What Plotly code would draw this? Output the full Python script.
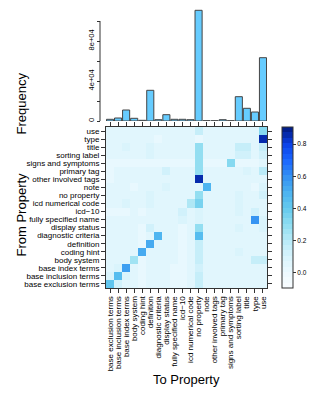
import plotly.graph_objects as go

W, H = 316, 396

properties = ["base exclusion terms", "base inclusion terms", "base index terms", "body system",
              "coding hint", "definition", "diagnostic criteria", "display status",
              "fully specified name", "icd\u221210", "icd numerical code", "no property", "note",
              "other involved tags", "primary tag", "signs and symptoms", "sorting label",
              "title", "type", "use"]

frequency = [1700, 3000, 11000, 2700, 700, 30700, 1300, 6300, 1700, 1700, 1300, 110700,
             300, 300, 1300, 300, 24300, 12700, 9000, 63300]

freq_tickvals = [0, 20000, 40000, 60000, 80000, 100000]
freq_ticktext = ["0", "", "4e+04", "", "8e+04", ""]

# rows = From Property (bottom to top), columns = To Property
z_base_exclusion = [0.42,0.12,0.05,0.04,0.03,0.05,0.04,0.04,0.03,0.03,0.04,0.14,0.04,0.04,0.05,0.04,0.06,0.04,0.05,0.05]
z_base_inclusion = [0.10,0.46,0.08,0.04,0.03,0.06,0.04,0.04,0.03,0.03,0.04,0.14,0.04,0.04,0.05,0.04,0.05,0.04,0.05,0.05]
z_base_index     = [0.06,0.08,0.55,0.05,0.03,0.07,0.04,0.04,0.03,0.03,0.04,0.13,0.04,0.04,0.05,0.04,0.05,0.04,0.05,0.06]
z_body_system    = [0.04,0.04,0.05,0.25,0.03,0.07,0.04,0.04,0.04,0.03,0.04,0.15,0.04,0.04,0.04,0.04,0.05,0.05,0.14,0.15]
z_coding_hint    = [0.04,0.04,0.05,0.04,0.52,0.06,0.04,0.04,0.04,0.03,0.04,0.14,0.04,0.04,0.04,0.04,0.08,0.04,0.04,0.06]
z_definition     = [0.04,0.04,0.05,0.04,0.03,0.52,0.05,0.04,0.04,0.03,0.04,0.14,0.04,0.04,0.04,0.04,0.05,0.04,0.04,0.05]
z_diagnostic     = [0.04,0.04,0.05,0.04,0.03,0.06,0.50,0.04,0.04,0.03,0.04,0.45,0.04,0.04,0.04,0.04,0.05,0.04,0.04,0.05]
z_display_status = [0.04,0.04,0.05,0.04,0.03,0.11,0.04,0.04,0.04,0.03,0.04,0.29,0.06,0.06,0.04,0.04,0.10,0.04,0.04,0.09]
z_fsn            = [0.04,0.04,0.05,0.04,0.04,0.06,0.04,0.04,0.04,0.10,0.04,0.10,0.04,0.04,0.04,0.04,0.06,0.04,0.58,0.09]
z_icd10          = [0.02,0.02,0.03,0.04,0.03,0.04,0.04,0.04,0.04,0.13,0.04,0.08,0.04,0.04,0.04,0.04,0.08,0.04,0.12,0.05]
z_icd_numerical  = [0.04,0.04,0.09,0.04,0.04,0.08,0.04,0.04,0.04,0.04,0.22,0.35,0.04,0.04,0.04,0.04,0.10,0.06,0.05,0.07]
z_no_property    = [0.04,0.04,0.05,0.04,0.04,0.08,0.04,0.04,0.04,0.04,0.06,0.28,0.06,0.06,0.04,0.04,0.10,0.04,0.04,0.12]
z_note           = [0.04,0.04,0.04,0.03,0.04,0.05,0.04,0.10,0.04,0.04,0.04,0.06,0.50,0.04,0.04,0.04,0.04,0.04,0.03,0.08]
z_other_involved = [0.03,0.04,0.04,0.05,0.04,0.04,0.04,0.06,0.04,0.04,0.04,0.86,0.04,0.06,0.06,0.04,0.04,0.04,0.04,0.04]
z_primary_tag    = [0.03,0.04,0.06,0.05,0.04,0.04,0.04,0.12,0.04,0.04,0.04,0.28,0.04,0.04,0.04,0.05,0.04,0.08,0.04,0.20]
z_signs          = [0.03,0.02,0.02,0.02,0.02,0.03,0.02,0.02,0.02,0.02,0.02,0.28,0.02,0.02,0.02,0.32,0.02,0.02,0.02,0.04]
z_sorting_label  = [0.04,0.04,0.05,0.04,0.04,0.10,0.04,0.04,0.04,0.04,0.04,0.28,0.04,0.04,0.04,0.04,0.12,0.12,0.04,0.12]
z_title          = [0.04,0.04,0.10,0.04,0.04,0.10,0.04,0.04,0.04,0.04,0.04,0.28,0.04,0.04,0.04,0.04,0.15,0.14,0.04,0.14]
z_type           = [0.04,0.04,0.04,0.04,0.04,0.04,0.01,0.04,0.04,0.04,0.04,0.03,0.04,0.04,0.04,0.04,0.04,0.04,0.04,0.86]
z_use            = [0.04,0.04,0.04,0.04,0.04,0.05,0.04,0.04,0.04,0.04,0.05,0.16,0.04,0.04,0.04,0.04,0.04,0.04,0.04,0.33]

transition = [z_base_exclusion, z_base_inclusion, z_base_index, z_body_system, z_coding_hint,
              z_definition, z_diagnostic, z_display_status, z_fsn, z_icd10, z_icd_numerical,
              z_no_property, z_note, z_other_involved, z_primary_tag, z_signs, z_sorting_label,
              z_title, z_type, z_use]

cbar_tickvals = [0.0, 0.2, 0.4, 0.6, 0.8]
cbar_ticktext = ["0.0", "0.2", "0.4", "0.6", "0.8"]

ZMIN, ZMAX = -0.094, 0.906

# ---- discrete colour scale ----
anchors = [(-0.094, "#F9FDFF"), (0.0, "#EDF9FE"), (0.1, "#D8F3FC"), (0.2, "#B8EAF7"),
           (0.3, "#8FDDF0"), (0.4, "#66CAEE"), (0.5, "#4CB2F0"), (0.6, "#3390F2"),
           (0.7, "#1A66FF"), (0.8, "#0A40E6"), (0.906, "#00187A")]

def hex2rgb(h):
    h = h.lstrip("#")
    return [int(h[i:i+2], 16) for i in (0, 2, 4)]

def color_at(v):
    for (v0, c0), (v1, c1) in zip(anchors[:-1], anchors[1:]):
        if v <= v1:
            t = (v - v0) / (v1 - v0)
            a, b = hex2rgb(c0), hex2rgb(c1)
            return "rgb(%d,%d,%d)" % tuple(round(a[k] + t * (b[k] - a[k])) for k in range(3))
    return "rgb(%d,%d,%d)" % tuple(hex2rgb(anchors[-1][1]))

NB = 30
colorscale = []
for i in range(NB):
    v = ZMIN + (i + 0.5) / NB * (ZMAX - ZMIN)
    c = color_at(v)
    colorscale.append([i / NB, c])
    colorscale.append([(i + 1) / NB, c])

# ---- geometry (pixels -> paper) ----
hx0, hx1 = 106, 267
hy0, hy1 = 127, 288
bar_top, bar_base = 8, 121

def px(x):
    return x / W

def py(y):
    return 1 - y / H

fig = go.Figure()

fig.add_trace(go.Bar(
    x=properties, y=frequency, xaxis="x2", yaxis="y2",
    marker=dict(color="#66CCFF", line=dict(color="#444444", width=1)),
    showlegend=False, hoverinfo="x+y"))

fig.add_trace(go.Heatmap(
    x=properties, y=properties, z=transition, xaxis="x", yaxis="y",
    zmin=ZMIN, zmax=ZMAX, colorscale=colorscale,
    colorbar=dict(x=px(282), xanchor="left", y=py((hy0 + hy1) / 2), yanchor="middle",
                  lenmode="pixels", len=hy1 - hy0, thicknessmode="pixels", thickness=11,
                  outlinewidth=1, outlinecolor="#333333", ticks="outside", ticklen=3,
                  tickcolor="#333333", tickvals=cbar_tickvals, ticktext=cbar_ticktext,
                  tickfont=dict(size=6.5, color="#000000"), xpad=0, ypad=0)))

font_family = "Liberation Sans, Arial, sans-serif"

axis_common = dict(type="category", categoryorder="array", categoryarray=properties,
                   tickmode="array", tickvals=properties, ticktext=properties,
                   showgrid=False, zeroline=False, showline=True, linecolor="#333333",
                   linewidth=1, mirror="ticks", ticks="outside", ticklen=4,
                   tickcolor="#333333", tickfont=dict(size=8), automargin=False)

fig.update_layout(
    template="none",
    width=W, height=H, autosize=False,
    margin=dict(l=0, r=0, t=0, b=0, pad=0),
    paper_bgcolor="white", plot_bgcolor="white",
    font=dict(family=font_family, color="#000000"),
    bargap=0.12,
    xaxis=dict(domain=[px(hx0), px(hx1)], anchor="y", tickangle=-90, **axis_common),
    yaxis=dict(domain=[py(hy1), py(hy0)], anchor="x", **axis_common),
    xaxis2=dict(domain=[px(hx0), px(hx1)], anchor="y2", type="category",
                categoryorder="array", categoryarray=properties,
                showgrid=False, zeroline=False, showline=False, showticklabels=False,
                ticks="", automargin=False),
    yaxis2=dict(domain=[py(bar_base), py(bar_top)], anchor="free", position=px(100),
                range=[0, 113000], showgrid=False, zeroline=False, showline=False,
                ticks="outside", ticklen=3, tickcolor="#333333",
                tickmode="array", tickvals=freq_tickvals, ticktext=freq_ticktext,
                tickangle=-90, tickfont=dict(size=7.5), automargin=False),
    shapes=[dict(type="line", xref="paper", yref="y2", x0=px(100), x1=px(100),
                 y0=freq_tickvals[0], y1=freq_tickvals[-1],
                 line=dict(color="#333333", width=1))],
    annotations=[
        dict(text="Frequency", xref="paper", yref="paper", x=px(11), y=py(71),
             textangle=-90, showarrow=False, font=dict(size=13)),
        dict(text="From Property", xref="paper", yref="paper", x=px(11), y=py(215),
             textangle=-90, showarrow=False, font=dict(size=13)),
        dict(text="To Property", xref="paper", yref="paper", x=px(186), y=py(389),
             showarrow=False, font=dict(size=13)),
    ],
)

fig.write_html("out.html",
               config={"displayModeBar": False, "staticPlot": True},
               post_script="document.body.style.margin='0';document.body.style.overflow='hidden';")
